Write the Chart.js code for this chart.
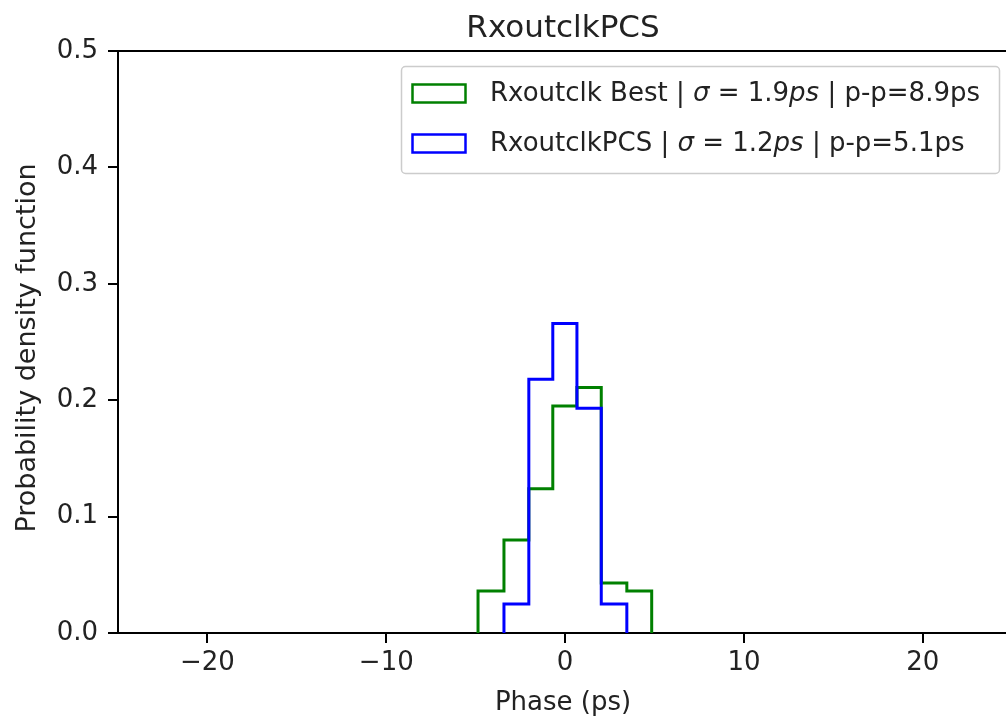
<!DOCTYPE html>
<html>
<head>
<meta charset="utf-8">
<script src="https://cdn.jsdelivr.net/npm/chart.js@4/dist/chart.umd.min.js"></script>
<style>
  html, body { margin: 0; padding: 0; background: #fff; overflow: hidden; }
  #wrap { width: 1006px; height: 718px; position: relative; }
</style>
</head>
<body>
<div id="wrap"><canvas id="c" width="1006" height="718"></canvas></div>
<script>
// ---- data ----
const chartTitle = 'RxoutclkPCS';
const xAxisLabel = 'Phase (ps)';
const yAxisLabel = 'Probability density function';
const binEdges = [-4.87, -3.42, -2.03, -0.69, 0.66, 2.02, 3.45, 4.84];
const bestValues = [0.036, 0.080, 0.124, 0.195, 0.211, 0.043, 0.036];      // Rxoutclk Best
const pcsValues  = [0.000, 0.025, 0.218, 0.266, 0.193, 0.025, 0.000];      // RxoutclkPCS
const seriesNames = ['Rxoutclk Best', 'RxoutclkPCS'];
const seriesSigma = ['1.9', '1.2'];
const seriesPP = ['8.9', '5.1'];
const xTicks = [-20, -10, 0, 10, 20];
const yTicks = [0, 0.1, 0.2, 0.3, 0.4, 0.5];
const xRange = [-25, 24.65];
const yRange = [0, 0.5];

// histogram outline built from bin edges + heights (stepped line)
function stepPoints(edges, vals) {
  let a = 0, b = vals.length - 1;
  while (a < b && vals[a] === 0) a++;
  while (b > a && vals[b] === 0) b--;
  const pts = [{x: edges[a], y: 0}];
  for (let i = a; i <= b; i++) pts.push({x: edges[i + 1], y: vals[i]});
  pts.push({x: edges[b + 1], y: 0});
  return pts;
}

const FONT = '"DejaVu Sans", "Liberation Sans", sans-serif';
const TXT = '#222222';
const colors = ['#008000', '#0000ff'];

function drawRich(ctx, segs, x, y, size) {
  ctx.textBaseline = 'middle';
  ctx.textAlign = 'left';
  for (const s of segs) {
    ctx.font = (s.it ? 'italic ' : '') + size + 'px ' + FONT;
    ctx.fillText(s.t, x, y);
    x += ctx.measureText(s.t).width;
  }
}

const decor = {
  id: 'decor',
  afterDraw(chart) {
    const ctx = chart.ctx, ca = chart.chartArea;
    ctx.save();
    // top spine
    ctx.strokeStyle = '#000'; ctx.lineWidth = 2;
    ctx.beginPath(); ctx.moveTo(ca.left - 1, ca.top); ctx.lineTo(ca.right, ca.top); ctx.stroke();
    // title
    ctx.fillStyle = TXT;
    ctx.font = '31px ' + FONT; ctx.textAlign = 'center'; ctx.textBaseline = 'alphabetic';
    ctx.fillText(chartTitle, 563, 37);
    // x label
    ctx.font = '26px ' + FONT;
    ctx.fillText(xAxisLabel, 563, 710);
    // y label
    ctx.save();
    ctx.translate(35, 348); ctx.rotate(-Math.PI / 2);
    ctx.font = '27px ' + FONT;
    ctx.fillText(yAxisLabel, 0, 0);
    ctx.restore();
    // legend
    const bx = 401.5, by = 66.5, bw = 598, bh = 107;
    ctx.beginPath();
    ctx.roundRect(bx, by, bw, bh, 4);
    ctx.fillStyle = 'rgba(255,255,255,0.8)'; ctx.fill();
    ctx.strokeStyle = '#cccccc'; ctx.lineWidth = 1.5; ctx.stroke();
    const rows = [94, 144];
    for (let i = 0; i < 2; i++) {
      ctx.strokeStyle = colors[i]; ctx.lineWidth = 2.5;
      ctx.strokeRect(412.5, rows[i] - 9.5, 53, 18);
      ctx.fillStyle = TXT;
      drawRich(ctx, [
        {t: seriesNames[i] + ' | '},
        {t: 'σ', it: true},
        {t: ' = ' + seriesSigma[i]},
        {t: 'ps', it: true},
        {t: ' | p-p=' + seriesPP[i] + 'ps'}
      ], 490, rows[i], 26);
    }
    ctx.restore();
  }
};

new Chart(document.getElementById('c'), {
  type: 'line',
  data: {
    datasets: [
      {label: seriesNames[1], data: stepPoints(binEdges, pcsValues), borderColor: colors[1], borderWidth: 3,
       stepped: 'after', pointRadius: 0, fill: false, order: 0},
      {label: seriesNames[0], data: stepPoints(binEdges, bestValues), borderColor: colors[0], borderWidth: 3,
       stepped: 'after', pointRadius: 0, fill: false, order: 1}
    ]
  },
  options: {
    responsive: false, animation: false, devicePixelRatio: 1,
    layout: {padding: {top: 51, left: 0, right: 0, bottom: 0}},
    plugins: {legend: {display: false}, title: {display: false}, tooltip: {enabled: false}},
    scales: {
      x: {
        type: 'linear', min: xRange[0], max: xRange[1],
        afterBuildTicks: s => { s.ticks = xTicks.map(v => ({value: v})); },
        afterFit: s => { s.height = 718 - 633; },
        ticks: {font: {family: FONT, size: 26}, color: TXT, padding: 5, maxRotation: 0,
                callback: v => (v < 0 ? '\u2212' + Math.abs(v) : String(v))},
        grid: {drawOnChartArea: false, drawTicks: true, tickLength: 10, color: '#000', lineWidth: 2},
        border: {display: true, color: '#000', width: 2}
      },
      y: {
        type: 'linear', min: yRange[0], max: yRange[1],
        afterBuildTicks: s => { s.ticks = yTicks.map(v => ({value: v})); },
        afterFit: s => { s.width = 118; },
        ticks: {font: {family: FONT, size: 26}, color: TXT, padding: 10,
                callback: v => Number(v).toFixed(1)},
        grid: {drawOnChartArea: false, drawTicks: true, tickLength: 10, color: '#000', lineWidth: 2},
        border: {display: true, color: '#000', width: 2}
      }
    }
  },
  plugins: [decor]
});
</script>
</body>
</html>
